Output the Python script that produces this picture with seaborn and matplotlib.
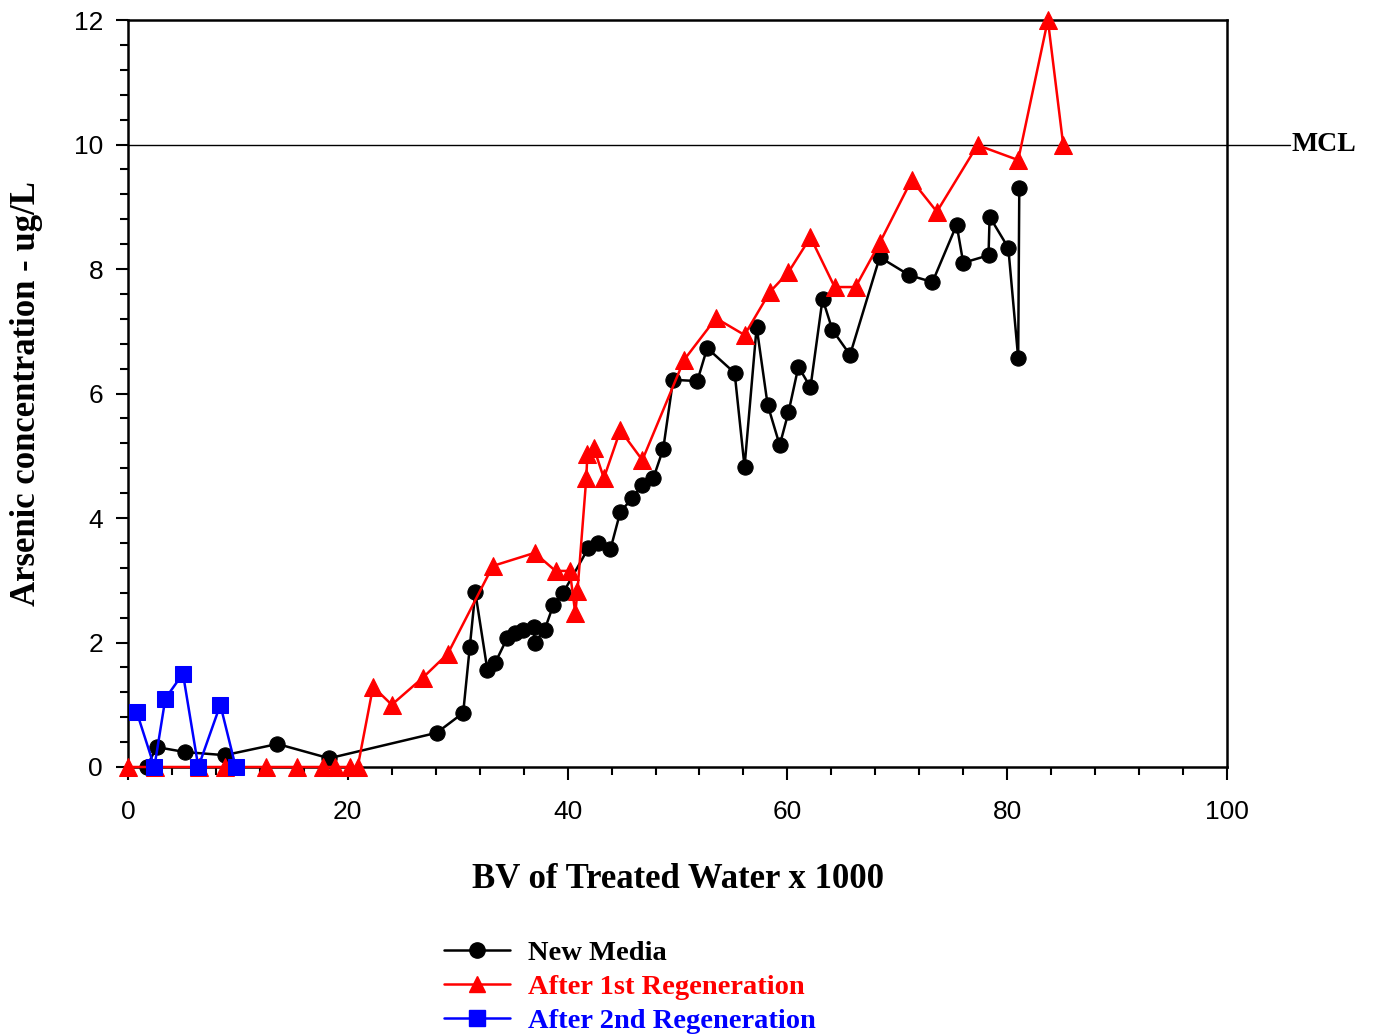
import matplotlib
matplotlib.use("Agg")
import matplotlib.pyplot as plt
import seaborn as sns
import pandas as pd
from matplotlib.lines import Line2D
from matplotlib.ticker import MultipleLocator

sns.set_theme(style="white")
plt.rcParams['font.family'] = ['Liberation Sans', 'DejaVu Sans']
plt.rcParams['text.color'] = 'black'
plt.rcParams['axes.labelcolor'] = 'black'
plt.rcParams['xtick.color'] = 'black'
plt.rcParams['ytick.color'] = 'black'

# ---- data ----
new_x = [1.7, 2.6, 5.2, 8.8, 13.6, 18.3, 28.1, 30.5, 31.1, 31.6, 32.7, 33.4, 34.5, 35.2,
         35.9, 36.9, 37.0, 37.9, 38.7, 39.6, 41.9, 42.8, 43.9, 44.8, 45.9, 46.8, 47.8,
         48.7, 49.6, 51.8, 52.7, 55.2, 56.1, 57.2, 58.2, 59.3, 60.1, 61.0, 62.1, 63.2,
         64.1, 65.7, 68.4, 71.1, 73.2, 75.4, 76.0, 78.3, 78.4, 80.1, 81.0, 81.1]
new_y = [0.0, 0.32, 0.24, 0.19, 0.37, 0.14, 0.55, 0.87, 1.93, 2.81, 1.56, 1.67, 2.07, 2.15,
         2.2, 2.25, 2.0, 2.2, 2.6, 2.8, 3.52, 3.6, 3.5, 4.1, 4.32, 4.53, 4.64,
         5.11, 6.22, 6.2, 6.73, 6.33, 4.82, 7.07, 5.82, 5.17, 5.7, 6.43, 6.1, 7.52,
         7.02, 6.62, 8.19, 7.9, 7.79, 8.71, 8.1, 8.22, 8.84, 8.34, 6.57, 9.3]

reg1_x = [0.0, 2.5, 6.5, 8.8, 12.6, 15.4, 17.7, 18.8, 20.2, 20.9, 22.3, 24.0, 26.8, 29.1,
          33.2, 37.0, 38.9, 40.2, 40.7, 40.9, 41.7, 41.8, 42.4, 43.3, 44.8, 46.8, 50.6,
          53.5, 56.1, 58.4, 60.1, 62.1, 64.3, 66.2, 68.4, 71.3, 73.6, 77.3, 81.0, 83.7, 85.1]
reg1_y = [0.0, 0.0, 0.0, 0.0, 0.0, 0.0, 0.0, 0.0, 0.0, 0.0, 1.29, 1.0, 1.43, 1.82,
          3.23, 3.44, 3.15, 3.15, 2.47, 2.83, 4.64, 5.03, 5.12, 4.64, 5.41, 4.93, 6.54,
          7.21, 6.94, 7.63, 7.95, 8.51, 7.71, 7.71, 8.42, 9.43, 8.92, 9.99, 9.75, 12.0, 9.99]

reg2_x = [0.8, 2.4, 3.4, 5.0, 6.4, 8.4, 9.8]
reg2_y = [0.88, 0.0, 1.1, 1.5, 0.0, 1.0, 0.0]

MCL = 10
series_names = ["New Media", "After 1st Regeneration", "After 2nd Regeneration"]
series_colors = ["black", "red", "blue"]
series_markers = ["o", "^", "s"]
series_ms = [11, 13, 11]

x_label = "BV of Treated Water x 1000"
y_label = "Arsenic concentration - ug/L"
SERIF = ["Liberation Serif", "DejaVu Serif"]

# ---- figure ----
fig = plt.figure(figsize=(13.73, 10.36), dpi=100)
ax = fig.add_axes([128/1373, 1-767/1036, (1227-128)/1373, (767-20)/1036])

datasets = [(new_x, new_y), (reg1_x, reg1_y), (reg2_x, reg2_y)]
for (xs, ys), name, c, m, ms in zip(datasets, series_names, series_colors, series_markers, series_ms):
    df = pd.DataFrame({"x": xs, "y": ys})
    sns.lineplot(data=df, x="x", y="y", sort=False, estimator=None, ax=ax,
                 color=c, marker=m, markersize=ms, markeredgecolor=c,
                 markerfacecolor=c, linewidth=1.8, legend=False, clip_on=False, zorder=3)

ax.axhline(MCL, xmin=0, xmax=1.0575, color="black", linewidth=1.0, clip_on=False, zorder=2)
ax.text(1.0585, MCL, "MCL", transform=ax.get_yaxis_transform(), va="center", ha="left",
        fontsize=20, fontweight="bold", family=SERIF)

ax.set_xlim(0, 100)
ax.set_ylim(0, 12)
ax.xaxis.set_major_locator(MultipleLocator(20))
ax.xaxis.set_minor_locator(MultipleLocator(4))
ax.yaxis.set_major_locator(MultipleLocator(2))
ax.yaxis.set_minor_locator(MultipleLocator(0.4))
ax.tick_params(which="both", direction="out", bottom=True, left=True, top=False, right=False,
               colors="black", width=1.5)
ax.tick_params(which="major", length=9, labelsize=19)
ax.tick_params(axis="x", which="major", pad=15)
ax.tick_params(axis="y", which="major", pad=9)
ax.tick_params(which="minor", length=6)
for sp in ax.spines.values():
    sp.set_color("black")
    sp.set_linewidth(1.8)
ax.grid(False)

ax.set_xlabel(x_label, fontsize=25, fontweight="bold", family=SERIF, labelpad=28)
ax.set_ylabel(y_label, fontsize=25, fontweight="bold", family=SERIF, labelpad=22)

handles = [Line2D([0], [0], color=c, marker=m, markersize=ms, linewidth=1.8)
           for c, m, ms in zip(series_colors, series_markers, [11, 12, 11])]
leg = fig.legend(handles, series_names, loc="upper left", bbox_to_anchor=(433/1373, 1-929/1036),
                 frameon=False, handlelength=2.3, handletextpad=0.65, labelspacing=0.28,
                 borderaxespad=0.0, borderpad=0.4,
                 prop={"family": SERIF, "weight": "bold", "size": 20.5})
for t, c in zip(leg.get_texts(), series_colors):
    t.set_color(c)

fig.savefig("out.png", dpi=100)
